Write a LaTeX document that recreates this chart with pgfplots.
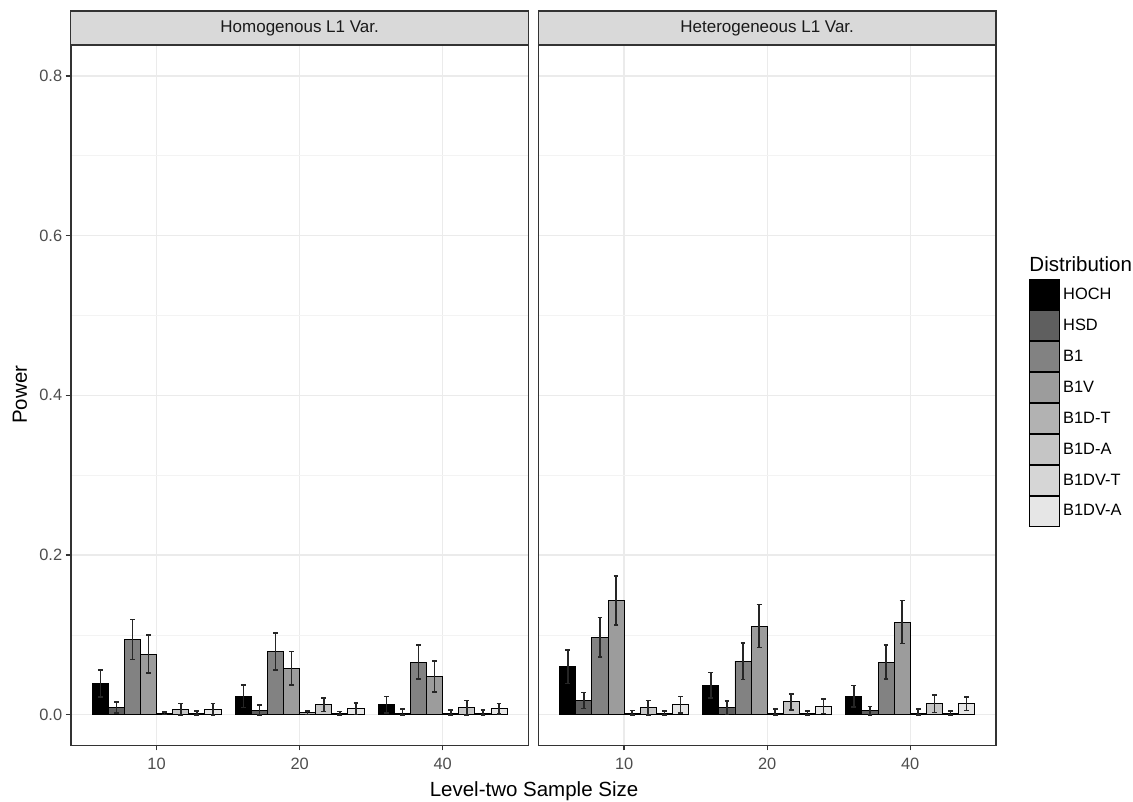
\documentclass[border=0pt]{standalone}
\usepackage{fontspec}
\setmainfont{Liberation Sans}
\usepackage{pgfplots}
\usepackage{pgfplotstable}
\pgfplotsset{compat=1.18}
\definecolor{cHOCH}{RGB}{0,0,0}
\definecolor{cHSD}{RGB}{95,95,95}
\definecolor{cBone}{RGB}{130,130,130}
\definecolor{cBoneV}{RGB}{156,156,156}
\definecolor{cBDT}{RGB}{178,178,178}
\definecolor{cBDA}{RGB}{197,197,197}
\definecolor{cBDVT}{RGB}{214,214,214}
\definecolor{cBDVA}{RGB}{230,230,230}
\definecolor{gridmaj}{RGB}{235,235,235}
\definecolor{gridmin}{RGB}{243,243,243}
\definecolor{g20}{RGB}{51,51,51}
\definecolor{g30}{RGB}{77,77,77}
\definecolor{stripbg}{RGB}{217,217,217}
\definecolor{g10}{RGB}{26,26,26}

% value, upper error (p), lower error (m)
\pgfplotstableread{
x HOCH pHOCH mHOCH HSD pHSD mHSD B1 pB1 mB1 B1V pB1V mB1V BDT pBDT mBDT BDA pBDA mBDA BDVT pBDVT mBDVT BDVA pBDVA mBDVA
1 0.039 0.017 0.017 0.009 0.007 0.007 0.094 0.025 0.025 0.076 0.024 0.024 0.0017 0.0015 0.0015 0.007 0.007 0.007 0.0017 0.003 0.0017 0.007 0.007 0.007
2 0.023 0.014 0.014 0.005 0.007 0.005 0.079 0.023 0.023 0.058 0.021 0.021 0.0025 0.002 0.002 0.0125 0.0085 0.0085 0.002 0.002 0.002 0.0075 0.007 0.007
3 0.0125 0.0105 0.0105 0.002 0.0055 0.002 0.066 0.021 0.021 0.048 0.0195 0.0195 0.0015 0.0045 0.0015 0.009 0.009 0.009 0.0015 0.0045 0.0015 0.0075 0.0065 0.0065
}\homog

\pgfplotstableread{
x HOCH pHOCH mHOCH HSD pHSD mHSD B1 pB1 mB1 B1V pB1V mB1V BDT pBDT mBDT BDA pBDA mBDA BDVT pBDVT mBDVT BDVA pBDVA mBDVA
1 0.060 0.021 0.021 0.018 0.010 0.010 0.097 0.025 0.025 0.143 0.031 0.031 0.002 0.0035 0.002 0.009 0.009 0.009 0.002 0.003 0.002 0.0125 0.0105 0.0105
2 0.037 0.016 0.016 0.009 0.0085 0.0085 0.067 0.023 0.023 0.111 0.027 0.027 0.002 0.005 0.002 0.016 0.010 0.010 0.002 0.003 0.002 0.0105 0.009 0.009
3 0.023 0.0135 0.0135 0.005 0.0055 0.005 0.066 0.021 0.021 0.116 0.027 0.027 0.002 0.005 0.002 0.014 0.011 0.011 0.002 0.003 0.002 0.014 0.0085 0.0085
}\heterog

\newcommand{\barplot}[4]{%
  \addplot[fill=#3, draw=black, line width=0.9pt, bar shift=#4,
    error bars/.cd, y dir=both, y explicit, error mark=|,
    error bar style={line width=1.6pt, color=black!85},
    error mark options={line width=1.6pt, mark size=2.4pt, color=black!85}]
    table[x=x, y=#2, y error plus=p#2, y error minus=m#2] {#1};}

\newcommand{\ticksize}{\fontsize{16.4}{19}\selectfont}
\newcommand{\stripsize}{\fontsize{17}{20}\selectfont}
\newcommand{\titlesize}{\fontsize{20.5}{24}\selectfont}

\pgfplotsset{
  panel/.style={
    scale only axis, width=457.7pt, height=701.3pt,
    xmin=0.4, xmax=3.6, ymin=-0.0383, ymax=0.840,
    xtick={1,2,3}, xticklabels={10,20,40},
    ytick={0,0.2,0.4,0.6,0.8},
    minor ytick={0.1,0.3,0.5,0.7},
    ymajorgrids, yminorgrids, xmajorgrids,
    major grid style={gridmaj, line width=1.3pt},
    minor grid style={gridmin, line width=0.7pt},
    axis line style={g20, line width=1.6pt},
    tick align=outside, major tick length=5.1pt,
    xtick pos=bottom, ytick pos=left,
    tick style={g20, line width=1.3pt},
    minor tick length=0pt,
    ticklabel style={font=\ticksize, text=g30},
    xticklabel style={yshift=-4pt},
    /pgf/number format/assume math mode=true,
    yticklabel style={/pgf/number format/fixed, /pgf/number format/fixed zerofill, /pgf/number format/precision=1},
    ybar, bar width=0.1125,
    title style={at={(axis description cs:0.5,1)}, anchor=south, yshift=-7pt, outer sep=0pt,
      fill=stripbg, draw=g20, line width=1.3pt, minimum width=457.7pt, minimum height=34pt,
      inner sep=0pt, text=g10, font=\stripsize},
  }
}

\begin{document}
\begin{tikzpicture}
\useasboundingbox (0,0) rectangle (1133pt,801pt);
\begin{axis}[panel, at={(70.8pt,55.7pt)}, anchor=south west,
  title={Homogenous L1 Var.},
  ylabel={Power},
  ylabel style={at={(axis description cs:-0.111,0.5)}, anchor=center, font=\titlesize, text=black},
  xlabel={Level-two Sample Size},
  xlabel style={at={(axis description cs:1.0121,0)}, anchor=center, yshift=-45.5pt, font=\titlesize, text=black},
]
\barplot{\homog}{HOCH}{cHOCH}{-0.39375}
\barplot{\homog}{HSD}{cHSD}{-0.28125}
\barplot{\homog}{B1}{cBone}{-0.16875}
\barplot{\homog}{B1V}{cBoneV}{-0.05625}
\barplot{\homog}{BDT}{cBDT}{0.05625}
\barplot{\homog}{BDA}{cBDA}{0.16875}
\barplot{\homog}{BDVT}{cBDVT}{0.28125}
\barplot{\homog}{BDVA}{cBDVA}{0.39375}
\end{axis}
\begin{axis}[panel, at={(538.3pt,55.7pt)}, anchor=south west,
  title={Heterogeneous L1 Var.},
  clip mode=individual,
  yticklabels={}, ytick style={draw=none},
  every axis plot post/.append style={legend image code/.code={\draw[##1, line width=0.9pt] (0pt,-15pt) rectangle (30pt,15pt);}},
  legend style={at={(axis description cs:1.0727,0.6645)}, anchor=north west,
    draw=none, fill=none, inner sep=0pt, outer sep=0pt, row sep=0pt,
    font=\ticksize, nodes={inner sep=1pt}},
  legend cell align=left,
]
\barplot{\heterog}{HOCH}{cHOCH}{-0.39375}
\barplot{\heterog}{HSD}{cHSD}{-0.28125}
\barplot{\heterog}{B1}{cBone}{-0.16875}
\barplot{\heterog}{B1V}{cBoneV}{-0.05625}
\barplot{\heterog}{BDT}{cBDT}{0.05625}
\barplot{\heterog}{BDA}{cBDA}{0.16875}
\barplot{\heterog}{BDVT}{cBDVT}{0.28125}
\barplot{\heterog}{BDVA}{cBDVA}{0.39375}
\legend{\hspace{2pt}HOCH,\hspace{2pt}HSD,\hspace{2pt}B1,\hspace{2pt}B1V,\hspace{2pt}B1D-T,\hspace{2pt}B1D-A,\hspace{2pt}B1DV-T,\hspace{2pt}B1DV-A}
\node[anchor=base west, inner sep=0pt, font=\titlesize] at (axis description cs:1.0727,0.6645) [yshift=8pt] {Distribution};
\end{axis}
\end{tikzpicture}
\end{document}
